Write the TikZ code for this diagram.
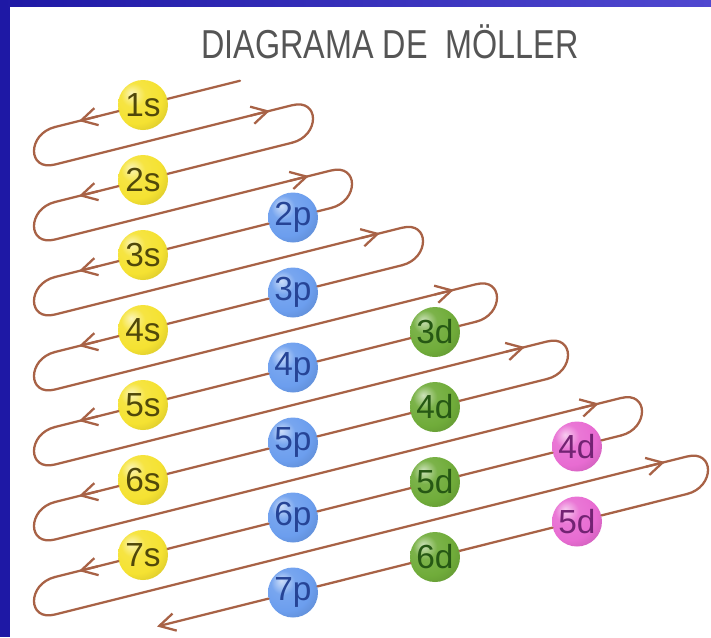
\documentclass[tikz,border=0pt]{standalone}
\usepackage{fontspec}
\setsansfont{Liberation Sans}
\usetikzlibrary{arrows.meta,calc}
\definecolor{frameblue}{RGB}{30,24,165}
\definecolor{framelight}{RGB}{80,72,208}
\definecolor{loopline}{RGB}{168,98,70}
\definecolor{titlegray}{RGB}{85,85,85}
\definecolor{sfill}{RGB}{245,226,50}
\definecolor{pfill}{RGB}{108,158,238}
\definecolor{dfill}{RGB}{112,172,58}
\definecolor{ffill}{RGB}{232,108,210}
\definecolor{stext}{RGB}{80,72,10}
\definecolor{ptext}{RGB}{38,68,150}
\definecolor{dtext}{RGB}{38,88,20}
\definecolor{ftext}{RGB}{115,35,115}
\colorlet{orbc}{sfill}
\pgfdeclareradialshading[orbc]{orbshade}{\pgfqpoint{-12bp}{12bp}}{%
  color(0bp)=(orbc!35!white); color(12bp)=(orbc!92!white); color(26bp)=(orbc);
  color(40bp)=(orbc!85!black); color(54bp)=(orbc!62!black); color(70bp)=(orbc!45!black)}

\begin{document}
\begin{tikzpicture}[x=0.02cm,y=-0.02cm,
  orbcolor/.code={\colorlet{orbc}{#1}},
  orb/.style={circle,minimum size=1cm,inner sep=0pt,shading=orbshade,
    font=\sffamily\fontsize{19}{19}\selectfont},
  sorb/.style={orbcolor=sfill,orb,text=stext},
  porb/.style={orbcolor=pfill,orb,text=ptext},
  dorb/.style={orbcolor=dfill,orb,text=dtext},
  forb/.style={orbcolor=ffill,orb,text=ftext},
  spiral/.style={draw=loopline,line width=1.3pt,line cap=round},
  barb/.style={spiral,-{Straight Barb[length=9pt,width=10pt]}}]
  \useasboundingbox (0,0) rectangle (711,637);
  \fill[frameblue] (0,0) rectangle (711,637);
  \shade[left color=frameblue,right color=framelight] (0,0) rectangle (711,7);
  \fill[white] (10,7) rectangle (711,637);
  \node[font=\sffamily\fontsize{23}{23}\selectfont,text=titlegray,xscale=0.8] (title) at (390,42) {DIAGRAMA DE~~MÖLLER};

  \foreach \k in {1,...,7}{\node[sorb] (s\k) at (143,{30+75*\k}) {\k s};}
  \foreach \k in {2,...,7}{\node[porb] (p\k) at (293,{67.5+75*\k}) {\k p};}
  \foreach \k in {3,...,6}{\node[dorb] (d\k) at (435,{107+75*\k}) {\k d};}
  \foreach \k in {4,5}{\node[forb] (f\k) at (577,{146.5+75*\k}) {\k d};}

  \coordinate (start) at (240,80.75);
  \coordinate (stop) at (157,626.5);
  \foreach \k/\r in {1/313,2/352,3/423,4/497,5/568,6/642,7/708}{
    \coordinate (la\k) at (55,{52+75*\k});
    \coordinate (lb\k) at (55,{89.5+75*\k});
    \coordinate (ra\k) at ({\r-21},{67.5+75*\k-0.25*(\r-164)});
    \coordinate (rb\k) at ({\r-21},{105+75*\k-0.25*(\r-164)});
    \draw[spiral] (la\k) .. controls +(-28,7) and +(-28,7) .. (lb\k) -- (ra\k)
      .. controls +(28,-7) and +(28,-7) .. (rb\k);
    \draw[barb] ($(la\k)!25pt!(s\k)$) -- ($(la\k)!14pt!(s\k)$);
    \draw[barb] ($(ra\k)!24pt!(lb\k)$) -- ($(ra\k)!13pt!(lb\k)$);
  }

  \draw[spiral] (start) -- (s1) -- (la1);
  \draw[spiral] (rb1) -- (s2) -- (la2);
  \draw[spiral] (rb2) -- (p2) -- (s3) -- (la3);
  \draw[spiral] (rb3) -- (p3) -- (s4) -- (la4);
  \draw[spiral] (rb4) -- (d3) -- (p4) -- (s5) -- (la5);
  \draw[spiral] (rb5) -- (d4) -- (p5) -- (s6) -- (la6);
  \draw[spiral] (rb6) -- (f4) -- (d5) -- (p6) -- (s7) -- (la7);
  \draw[barb] (rb7) -- (f5) -- (d6) -- (p7) -- (stop);
\end{tikzpicture}
\end{document}
